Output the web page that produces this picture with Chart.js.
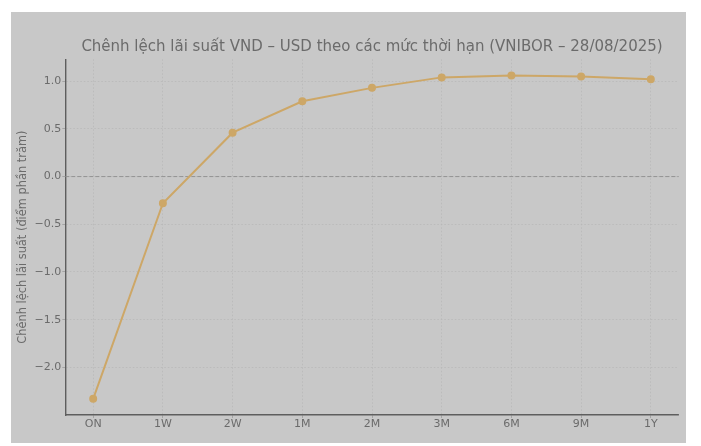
<!DOCTYPE html>
<html>
<head>
<meta charset="utf-8">
<script src="https://cdn.jsdelivr.net/npm/chart.js@4.4.0/dist/chart.umd.min.js"></script>
<style>
  body { margin: 0; background: #fff; }
  #wrap { position: absolute; left: 11px; top: 12px; width: 675px; height: 431px; background: #c8c8c8; }
</style>
</head>
<body>
<div id="wrap"><canvas id="spreadChart" width="675" height="431"></canvas></div>
<script>
const tenors = ['ON', '1W', '2W', '1M', '2M', '3M', '6M', '9M', '1Y'];
const spread = [-2.33, -0.28, 0.46, 0.79, 0.93, 1.04, 1.06, 1.05, 1.02];
const yTicks = [-2.0, -1.5, -1.0, -0.5, 0.0, 0.5, 1.0];

const TEXT = '#6b6b6b';
const GRID = '#b8b8b8';
const SPINE = '#5e5e5e';
const LINE = '#cda767';

// matplotlib-like 5% margins
const lo = Math.min(...spread), hi = Math.max(...spread);
const pad = (hi - lo) * 0.05;

const zeroLine = {
  id: 'zeroLine',
  beforeDatasetsDraw(chart) {
    const { ctx, chartArea, scales } = chart;
    const y = scales.y.getPixelForValue(0);
    ctx.save();
    ctx.strokeStyle = '#939393';
    ctx.lineWidth = 1;
    ctx.setLineDash([4, 2]);
    ctx.beginPath();
    ctx.moveTo(chartArea.left, y);
    ctx.lineTo(chartArea.right, y);
    ctx.stroke();
    ctx.restore();
  }
};

const ctx = document.getElementById('spreadChart').getContext('2d');
new Chart(ctx, {
  type: 'line',
  data: {
    datasets: [{
      data: spread.map((v, i) => ({ x: i, y: v })),
      borderColor: LINE,
      backgroundColor: LINE,
      borderWidth: 2,
      pointRadius: 3,
      pointHoverRadius: 3,
      fill: false,
      tension: 0
    }]
  },
  options: {
    responsive: false,
    animation: false,
    layout: { padding: { top: 0, left: 0, right: 7.3, bottom: 0 } },
    plugins: {
      legend: { display: false },
      tooltip: { enabled: false },
      title: {
        display: true,
        fullSize: false,
        text: 'Chênh lệch lãi suất VND – USD theo các mức thời hạn (VNIBOR – 28/08/2025)',
        color: TEXT,
        font: { family: 'DejaVu Sans', size: 15, weight: 'normal' },
        padding: { top: 26, bottom: 3.3 }
      }
    },
    scales: {
      x: {
        type: 'linear',
        min: -0.4,
        max: 8.4,
        afterBuildTicks: s => { s.ticks = tenors.map((t, i) => ({ value: i })); },
        afterFit: s => { s.height = 28; },
        ticks: {
          color: TEXT,
          font: { family: 'DejaVu Sans', size: 11 },
          padding: 0,
          maxRotation: 0,
          callback: v => tenors[v]
        },
        grid: { color: GRID, lineWidth: 0.8, tickLength: 3, tickColor: '#9a9a9a' },
        border: { color: SPINE, width: 1.4, dash: [1.5, 2] }
      },
      y: {
        min: lo - pad,
        max: hi + pad,
        afterBuildTicks: s => { s.ticks = yTicks.map(v => ({ value: v })); },
        afterFit: s => { s.width = 54.3; },
        ticks: {
          color: TEXT,
          font: { family: 'DejaVu Sans', size: 11 },
          padding: 1,
          callback: v => v.toFixed(1).replace('-', '\u2212')
        },
        grid: { color: GRID, lineWidth: 0.8, tickLength: 3, tickColor: '#9a9a9a' },
        border: { color: SPINE, width: 1.4, dash: [1.5, 2] },
        title: {
          display: true,
          text: 'Chênh lệch lãi suất (điểm phần trăm)',
          color: TEXT,
          font: { family: 'DejaVu Sans', size: 11.4 },
          padding: { top: 5, bottom: 0 }
        }
      }
    }
  },
  plugins: [zeroLine]
});
</script>
</body>
</html>
